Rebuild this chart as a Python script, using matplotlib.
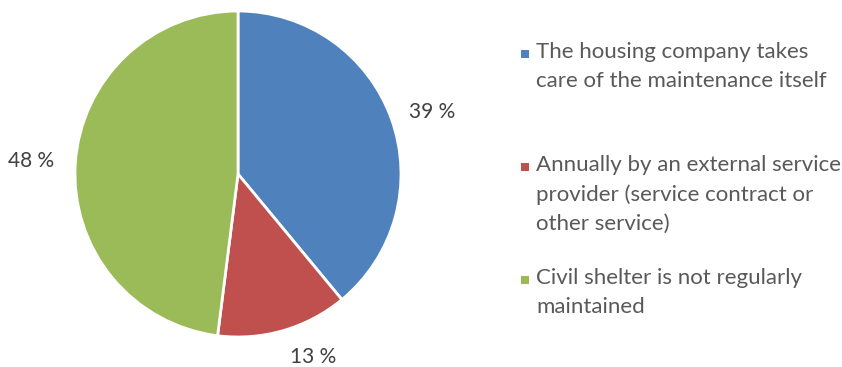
import matplotlib.pyplot as plt
from matplotlib.patches import Rectangle

plt.rcParams["font.family"] = ["Lato", "DejaVu Sans"]

labels = [
    "The housing company takes\ncare of the maintenance itself",
    "Annually by an external service\nprovider (service contract or\nother service)",
    "Civil shelter is not regularly\nmaintained",
]
shares = [39, 13, 48]
colors = ["#4F81BD", "#C0504D", "#9BBB59"]

W, H = 842, 367
fig = plt.figure(figsize=(W / 100, H / 100), dpi=100)

# square axes holding the pie (pixel geometry)
cx, cy, r = 238, 174, 163
ax = fig.add_axes([(cx - r) / W, (H - cy - r) / H, 2 * r / W, 2 * r / H])
wedges, texts, autotexts = ax.pie(
    shares,
    colors=colors,
    startangle=90,
    counterclock=False,
    autopct=lambda p: f"{p:.0f} %",
    pctdistance=1.27,
    wedgeprops=dict(edgecolor="white", linewidth=2),
    textprops=dict(fontsize=15, color="#404040"),
)
ax.set_xlim(-1, 1)
ax.set_ylim(-1, 1)
ax.set_aspect("equal")

# nudge the outside labels to where they sit best
autotexts[0].set_position((1.19, 0.38))
autotexts[1].set_position((0.46, -1.12))

# legend on the right, square marker next to first line of each entry
legend_top = [42, 155, 268]
for lab, col, y in zip(labels, colors, legend_top):
    fig.patches.append(
        Rectangle((521 / W, 1 - (y + 16) / H), 8 / W, 8 / H,
                  transform=fig.transFigure, facecolor=col, edgecolor="none")
    )
    fig.text(536 / W, 1 - y / H, lab, fontsize=16, color="#595959",
             va="top", ha="left", linespacing=1.55)

fig.savefig("out.png", dpi=100)
